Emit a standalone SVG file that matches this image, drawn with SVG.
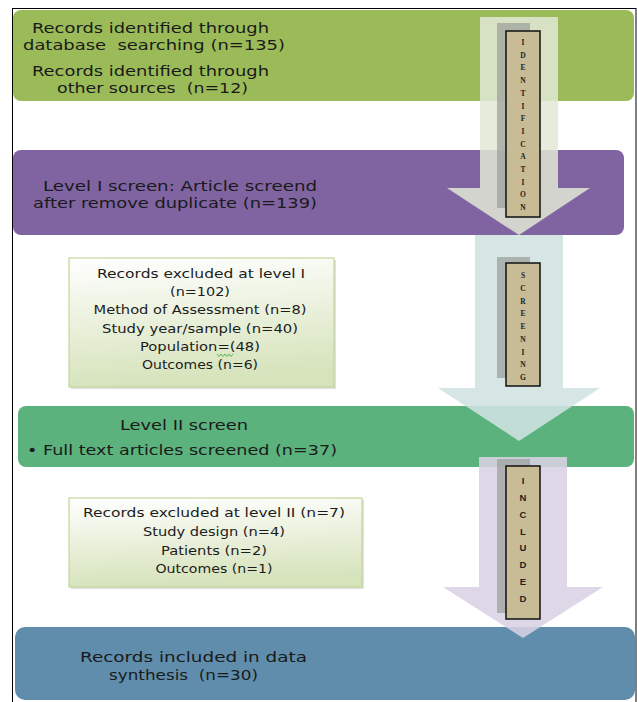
<svg xmlns="http://www.w3.org/2000/svg" width="637" height="702" viewBox="0 0 637 702">
<defs>
<style>
.main{font-family:"DejaVu Sans","Liberation Sans",sans-serif;font-size:14.5px;fill:#1a1a1a;white-space:pre}
.excl{font-family:"DejaVu Sans","Liberation Sans",sans-serif;font-size:13px;fill:#1c1c1c;text-anchor:middle;white-space:pre}
.lbl{font-family:"Liberation Serif",serif;font-weight:bold;font-size:7.5px;fill:#222;text-anchor:middle}
.lbls{font-family:"Liberation Sans",sans-serif;font-weight:bold;font-size:9.5px;fill:#222;text-anchor:middle}
.shadow{fill:#9ea29c;opacity:0.75}
.tag{fill:#c8bc96;stroke:#111;stroke-width:1.5}
.exbox{fill:url(#exg);stroke:#c3d69b;stroke-width:1.2}
.exsh{fill:#000;opacity:0.12}
</style>
<linearGradient id="exg" x1="0" y1="0" x2="0.15" y2="1">
<stop offset="0" stop-color="#ffffff"/>
<stop offset="1" stop-color="#d6e3bb"/>
</linearGradient>
</defs>
<rect x="0" y="0" width="637" height="702" fill="#ffffff"/>

<g id="node-identified">
<rect x="13" y="10" width="621" height="91" rx="8" fill="#9bbb59"/>
<text class="main" x="32" y="33" textLength="237" lengthAdjust="spacingAndGlyphs">Records identified through</text>
<text class="main" x="23" y="50" textLength="262" lengthAdjust="spacingAndGlyphs">database  searching (n=135)</text>
<text class="main" x="32" y="76" textLength="237" lengthAdjust="spacingAndGlyphs">Records identified through</text>
<text class="main" x="57" y="93" textLength="191" lengthAdjust="spacingAndGlyphs">other sources  (n=12)</text>
</g>

<g id="node-level1">
<rect x="13" y="150" width="611" height="85" rx="8" fill="#8064a2"/>
<text class="main" x="43" y="191" textLength="274" lengthAdjust="spacingAndGlyphs">Level I screen: Article screend</text>
<text class="main" x="33" y="208" textLength="284" lengthAdjust="spacingAndGlyphs">after remove duplicate (n=139)</text>
</g>

<g id="node-excluded1">
<rect class="exsh" x="71" y="260" width="265" height="129"/>
<rect class="exbox" x="69" y="258" width="265" height="129"/>
<text class="excl" x="201" y="278" textLength="208" lengthAdjust="spacingAndGlyphs">Records excluded at level I</text>
<text class="excl" x="200" y="296" textLength="60" lengthAdjust="spacingAndGlyphs">(n=102)</text>
<text class="excl" x="200" y="314" textLength="213" lengthAdjust="spacingAndGlyphs">Method of Assessment (n=8)</text>
<text class="excl" x="200" y="333" textLength="196" lengthAdjust="spacingAndGlyphs">Study year/sample (n=40)</text>
<text class="excl" x="200" y="351" textLength="120" lengthAdjust="spacingAndGlyphs">Population=(48)</text>
<text class="excl" x="200" y="369" textLength="116" lengthAdjust="spacingAndGlyphs">Outcomes (n=6)</text>
<polyline points="217,354 219,356.5 221,354 223,356.5 225,354 227,356.5 229,354 231,356.5 233,354" fill="none" stroke="#4caf50" stroke-width="0.9"/>
</g>

<g id="node-level2">
<rect x="18" y="406" width="616" height="61" rx="8" fill="#5bb27c"/>
<text class="main" x="120" y="430" textLength="128" lengthAdjust="spacingAndGlyphs">Level II screen</text>
<text class="main" x="27" y="455" textLength="310" lengthAdjust="spacingAndGlyphs">• Full text articles screened (n=37)</text>
</g>

<g id="node-excluded2">
<rect class="exsh" x="71" y="500" width="293" height="89"/>
<rect class="exbox" x="69" y="498" width="293" height="89"/>
<text class="excl" x="214" y="517" textLength="262" lengthAdjust="spacingAndGlyphs">Records excluded at level II (n=7)</text>
<text class="excl" x="214" y="536" textLength="142" lengthAdjust="spacingAndGlyphs">Study design (n=4)</text>
<text class="excl" x="214" y="555" textLength="106" lengthAdjust="spacingAndGlyphs">Patients (n=2)</text>
<text class="excl" x="214" y="573" textLength="117" lengthAdjust="spacingAndGlyphs">Outcomes (n=1)</text>
</g>

<g id="node-included">
<rect x="15" y="627" width="620" height="73" rx="10" fill="#5f8dab"/>
<text class="main" x="80" y="662" textLength="227" lengthAdjust="spacingAndGlyphs">Records included in data</text>
<text class="main" x="109" y="680" textLength="149" lengthAdjust="spacingAndGlyphs">synthesis  (n=30)</text>
</g>

<g id="connectors">
<g id="stage-identification">
<polygon points="480,17 558,17 558,188 590,188 519,235 447,188 480,188" fill="#e2e8d6" opacity="0.85"/>
<rect class="shadow" x="497" y="23" width="33" height="185"/>
<rect class="tag" x="506" y="31" width="34" height="186"/>
<text class="lbl" x="523" y="45">I</text>
<text class="lbl" x="523" y="57.7">D</text>
<text class="lbl" x="523" y="70.4">E</text>
<text class="lbl" x="523" y="83.1">N</text>
<text class="lbl" x="523" y="95.8">T</text>
<text class="lbl" x="523" y="108.5">I</text>
<text class="lbl" x="523" y="121.2">F</text>
<text class="lbl" x="523" y="133.9">I</text>
<text class="lbl" x="523" y="146.6">C</text>
<text class="lbl" x="523" y="159.3">A</text>
<text class="lbl" x="523" y="172">T</text>
<text class="lbl" x="523" y="184.7">I</text>
<text class="lbl" x="523" y="197.4">O</text>
<text class="lbl" x="523" y="210.1">N</text>
</g>
<g id="stage-screening">
<polygon points="475,235 563,235 563,388 600,388 519,441 438,388 475,388" fill="#cfe3e1" opacity="0.88"/>
<rect class="shadow" x="497" y="257" width="33" height="121"/>
<rect class="tag" x="506" y="263" width="34" height="123"/>
<text class="lbl" x="523" y="278">S</text>
<text class="lbl" x="523" y="290.75">C</text>
<text class="lbl" x="523" y="303.5">R</text>
<text class="lbl" x="523" y="316.25">E</text>
<text class="lbl" x="523" y="329">E</text>
<text class="lbl" x="523" y="341.75">N</text>
<text class="lbl" x="523" y="354.5">I</text>
<text class="lbl" x="523" y="367.25">N</text>
<text class="lbl" x="523" y="380">G</text>
</g>
<g id="stage-included">
<polygon points="479,457 567,457 567,587 603,587 523,638 443,587 479,587" fill="#d8d2e4" opacity="0.88"/>
<rect class="shadow" x="497" y="459" width="33" height="154"/>
<rect class="tag" x="506" y="466" width="34" height="153"/>
<text class="lbls" x="523" y="484">I</text>
<text class="lbls" x="523" y="500.9">N</text>
<text class="lbls" x="523" y="517.7">C</text>
<text class="lbls" x="523" y="534.6">L</text>
<text class="lbls" x="523" y="551.4">U</text>
<text class="lbls" x="523" y="568.3">D</text>
<text class="lbls" x="523" y="585.1">E</text>
<text class="lbls" x="523" y="602">D</text>
</g>
</g>

<rect id="frame" x="12.5" y="8.5" width="623.5" height="700" fill="none" stroke="#000" stroke-width="1"/>
</svg>
